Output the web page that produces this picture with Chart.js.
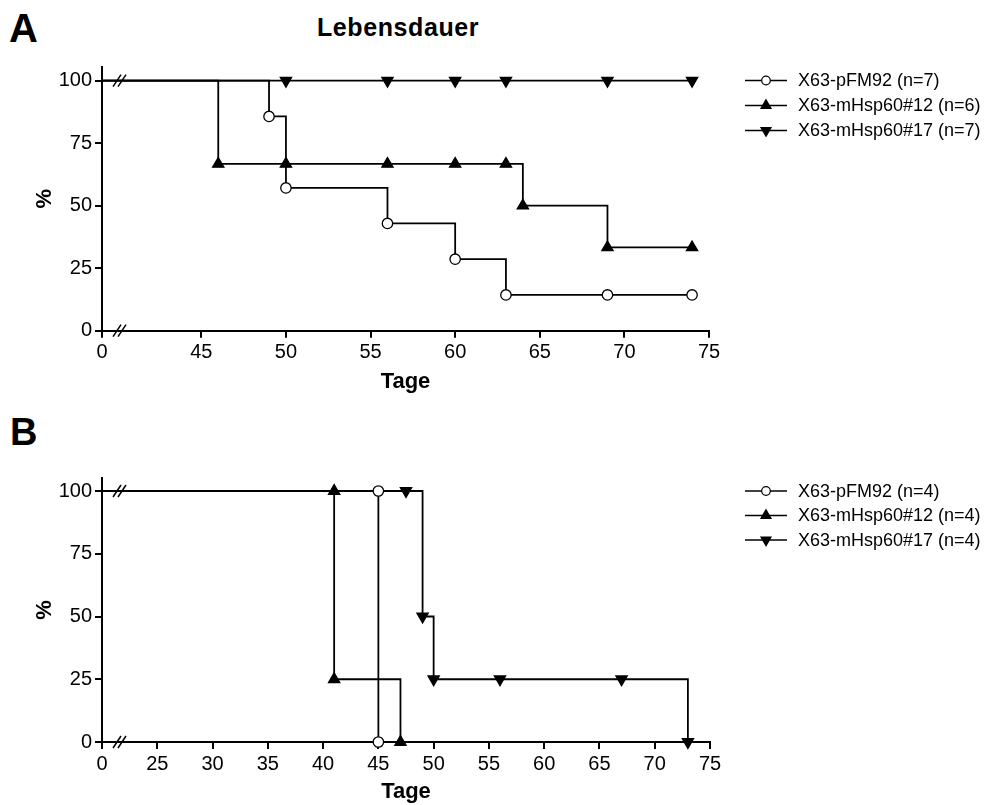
<!DOCTYPE html>
<html>
<head>
<meta charset="utf-8">
<script src="https://cdn.jsdelivr.net/npm/chart.js@4.4.1/dist/chart.umd.min.js"></script>
<style>
  body { margin: 0; background: #fff; font-family: "Liberation Sans", Arial, sans-serif; }
  #wrap { position: relative; width: 1005px; height: 805px; }
  canvas { position: absolute; left: 0; }
  .lbl { position: absolute; font-weight: bold; color: #000; white-space: nowrap; }
</style>
</head>
<body>
<div id="wrap">
  <div class="lbl" style="left:9px; top:8px; font-size:40px; line-height:40px;">A</div>
  <div class="lbl" style="left:317px; top:15px; font-size:25px; line-height:24px; letter-spacing:0.6px;">Lebensdauer</div>
  <div class="lbl" style="left:10px; top:413px; font-size:38px; line-height:38px;">B</div>
  <canvas id="chartA" width="1005" height="400" style="top:0"></canvas>
  <canvas id="chartB" width="1005" height="405" style="top:400px"></canvas>
</div>
<script>
// Panel A
const labelsA = ['X63-pFM92 (n=7)', 'X63-mHsp60#12 (n=6)', 'X63-mHsp60#17 (n=7)'];
const pfmDaysA = [0, 49, 50, 56, 60, 63, 69, 74];
const pfmPctA = [100, 85.7, 57.1, 42.9, 28.6, 14.3, 14.3, 14.3];
const hsp12DaysA = [0, 46, 50, 56, 60, 63, 64, 69, 74];
const hsp12PctA = [100, 66.7, 66.7, 66.7, 66.7, 66.7, 50, 33.3, 33.3];
const hsp17DaysA = [0, 50, 56, 60, 63, 69, 74];
const hsp17PctA = [100, 100, 100, 100, 100, 100, 100];
const xTicksA = [0, 45, 50, 55, 60, 65, 70, 75];

// Panel B
const labelsB = ['X63-pFM92 (n=4)', 'X63-mHsp60#12 (n=4)', 'X63-mHsp60#17 (n=4)'];
const pfmDaysB = [0, 45, 45];
const pfmPctB = [100, 100, 0];
const hsp12DaysB = [0, 41, 41, 47];
const hsp12PctB = [100, 100, 25, 0];
const hsp17DaysB = [0, 47.5, 49, 50, 56, 67, 73];
const hsp17PctB = [100, 100, 50, 25, 25, 25, 0];
const xTicksB = [0, 25, 30, 35, 40, 45, 50, 55, 60, 65, 70, 75];

const yTicks = [0, 25, 50, 75, 100];

const FONT = '"Liberation Sans", Arial, Helvetica, sans-serif';

const markers = [
  { pointStyle: 'circle', rotation: 0, radius: 5.2, fill: '#fff' },
  { pointStyle: 'triangle', rotation: 0, radius: 6.5, fill: '#000' },
  { pointStyle: 'triangle', rotation: 180, radius: 6.5, fill: '#000' }
];

function toPoints(days, pct) {
  return days.map((d, i) => ({ x: d, y: pct[i] }));
}

function kmSet(label, days, pct, m) {
  return {
    label: label,
    data: toPoints(days, pct),
    stepped: 'before',
    borderColor: '#000',
    borderWidth: 1.8,
    fill: false,
    pointStyle: m.pointStyle,
    pointRotation: m.rotation,
    pointRadius: c => (c.raw && c.raw.x === 0 ? 0 : m.radius),
    pointHoverRadius: c => (c.raw && c.raw.x === 0 ? 0 : m.radius),
    pointBackgroundColor: m.fill,
    pointBorderColor: '#000',
    pointBorderWidth: 1.3,
    clip: { left: 0, top: 12, right: 12, bottom: 12 }
  };
}

// legend with line + marker like the original
const kmLegend = {
  id: 'kmLegend',
  afterDraw(chart, args, opts) {
    const ctx = chart.ctx;
    ctx.save();
    ctx.font = '18px ' + FONT;
    ctx.textBaseline = 'middle';
    chart.data.datasets.forEach((ds, i) => {
      const y = opts.top + i * opts.gap;
      ctx.strokeStyle = '#000';
      ctx.lineWidth = 1.6;
      ctx.beginPath();
      ctx.moveTo(opts.left, y);
      ctx.lineTo(opts.left + 42, y);
      ctx.stroke();
      ctx.fillStyle = ds.pointBackgroundColor;
      ctx.lineWidth = 1.2;
      Chart.helpers.drawPoint(ctx, {
        pointStyle: ds.pointStyle,
        rotation: ds.pointRotation,
        radius: ds.pointStyle === 'circle' ? 4.3 : 5.8,
        borderWidth: 1.2
      }, opts.left + 21, y);
      ctx.fillStyle = '#000';
      ctx.fillText(ds.label, opts.left + 53, y + 1);
    });
    ctx.restore();
  }
};

// "//" marks of the broken x axis
const axisBreaks = {
  id: 'axisBreaks',
  afterDraw(chart) {
    const { ctx, chartArea, scales } = chart;
    ctx.save();
    ctx.strokeStyle = '#000';
    ctx.lineWidth = 1.5;
    [0, 100].forEach(v => {
      const y = scales.y.getPixelForValue(v);
      const x = chartArea.left + 11;
      ctx.beginPath();
      ctx.moveTo(x, y + 6);
      ctx.lineTo(x + 8, y - 6);
      ctx.moveTo(x + 5, y + 6);
      ctx.lineTo(x + 13, y - 6);
      ctx.stroke();
    });
    ctx.restore();
  }
};

function makeChart(id, p) {
  const ctx = document.getElementById(id).getContext('2d');
  return new Chart(ctx, {
    type: 'line',
    data: {
      datasets: [
        kmSet(p.labels[0], p.sets[0][0], p.sets[0][1], markers[0]),
        kmSet(p.labels[1], p.sets[1][0], p.sets[1][1], markers[1]),
        kmSet(p.labels[2], p.sets[2][0], p.sets[2][1], markers[2])
      ]
    },
    options: {
      responsive: false,
      animation: false,
      events: [],
      layout: { padding: { left: 0, right: p.padRight, top: p.padTop, bottom: 0 } },
      scales: {
        x: {
          type: 'linear',
          min: p.xStart,
          max: 75,
          afterBuildTicks: s => { s.ticks = p.xTicks.map(v => ({ value: v === 0 ? p.xStart : v })); },
          afterFit: s => { s.height = p.xHeight; },
          ticks: {
            color: '#000',
            font: { family: FONT, size: 20 },
            padding: 3,
            maxRotation: 0,
            autoSkip: false,
            callback: (v, i) => String(p.xTicks[i])
          },
          grid: { drawOnChartArea: false, drawTicks: true, tickLength: 7, color: '#000', lineWidth: 2 },
          border: { display: true, color: '#000', width: 2 },
          title: {
            display: true,
            text: 'Tage',
            color: '#000',
            font: { family: FONT, size: 22, weight: 'bold' },
            padding: { top: 0, bottom: p.titlePad }
          }
        },
        y: {
          type: 'linear',
          min: 0,
          max: p.yMax,
          afterBuildTicks: s => { s.ticks = yTicks.map(v => ({ value: v })); },
          afterFit: s => { s.width = 102; },
          ticks: {
            color: '#000',
            font: { family: FONT, size: 20 },
            padding: 3,
            callback: v => String(v)
          },
          grid: { drawOnChartArea: false, drawTicks: true, tickLength: 7, color: '#000', lineWidth: 2 },
          border: { display: true, color: '#000', width: 2 },
          title: {
            display: true,
            text: '%',
            color: '#000',
            font: { family: FONT, size: 22, weight: 'bold' },
            padding: { top: 32, bottom: 0 }
          }
        }
      },
      plugins: {
        legend: { display: false },
        tooltip: { enabled: false },
        kmLegend: { left: 745, top: p.legTop, gap: p.legGap }
      }
    },
    plugins: [kmLegend, axisBreaks]
  });
}

makeChart('chartA', {
  labels: labelsA,
  sets: [[pfmDaysA, pfmPctA], [hsp12DaysA, hsp12PctA], [hsp17DaysA, hsp17PctA]],
  xTicks: xTicksA,
  xStart: 39.13,
  yMax: 105.6,
  padTop: 66.7,
  padRight: 296,
  xHeight: 69.3,
  titlePad: 5,
  legTop: 80.5,
  legGap: 25
});

makeChart('chartB', {
  labels: labelsB,
  sets: [[pfmDaysB, pfmPctB], [hsp12DaysB, hsp12PctB], [hsp17DaysB, hsp17PctB]],
  xTicks: xTicksB,
  xStart: 20,
  yMax: 105.3,
  padTop: 77.7,
  padRight: 295,
  xHeight: 63,
  titlePad: 0,
  legTop: 91,
  legGap: 24.5
});
</script>
</body>
</html>
